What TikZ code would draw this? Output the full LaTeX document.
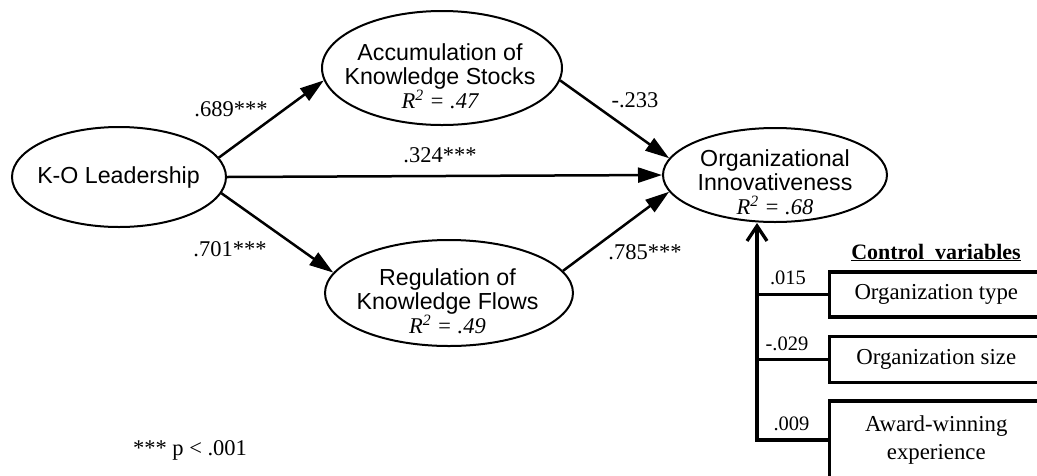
\documentclass[tikz,border=0pt]{standalone}
\usepackage{fontspec}
\setmainfont{Liberation Serif}
\newfontfamily\arialfont{Liberation Sans}
\usetikzlibrary{arrows.meta,shapes.geometric}

% R-squared line under a construct name
\newcommand{\rsqline}[1]{{\fontfamily{\rmdefault}\fontsize{22.5}{24}\selectfont\itshape R\textsuperscript{2} = #1}}

\begin{document}
\begin{tikzpicture}[x=1pt,y=-1pt,
  latent/.style={ellipse, draw, line width=2pt, inner sep=0pt},
  vartext/.style={align=center, inner sep=0pt,
    font=\arialfont\fontsize{23.2}{24}\selectfont},
  coef/.style={inner sep=0pt, font=\fontsize{22.5}{26}\selectfont},
  wlabel/.style={inner sep=0pt, font=\fontsize{20.5}{22}\selectfont},
  pathline/.style={line width=2.5pt, -{Triangle[length=24pt,width=15pt]}},
  ctrlbox/.style={draw, line width=3.3pt, minimum width=213pt, inner sep=0pt,
    align=center, font=\fontsize{22.8}{28.3}\selectfont},
  ctrlline/.style={line width=3.3pt},
]
\useasboundingbox (0,0) rectangle (1037,475);
\clip (0,0) rectangle (1037,475);

% latent constructs
\node[latent, minimum width=214pt, minimum height=100pt] (ko)  at (119,177) {};
\node[latent, minimum width=240pt, minimum height=114pt] (acc) at (442,68)  {};
\node[latent, minimum width=248pt, minimum height=106pt] (reg) at (449,293) {};
\node[latent, minimum width=224pt, minimum height=94pt]  (oi)  at (775,175) {};

\node[vartext] (kot)  at (118.5,177) {K-O Leadership};
\node[vartext] (acct) at (440,76)    {Accumulation of\\Knowledge Stocks\\\rsqline{.47}};
\node[vartext] (regt) at (447.5,301) {Regulation of\\Knowledge Flows\\\rsqline{.49}};
\node[vartext] (oit)  at (775,182)   {Organizational\\Innovativeness\\\rsqline{.68}};

% structural paths
\draw[pathline] (ko.11)  -- (acc.186);
\draw[pathline] (ko.351) -- (reg.170);
\draw[pathline] (ko.east) -- (oi.west);
\draw[pathline] (acc.354) -- (oi.171);
\draw[pathline] (reg.11) -- (oi.189);

% path coefficients
\node[coef] (c1) at (231,109)   {.689***};
\node[coef] (c2) at (440,155.5) {.324***};
\node[coef] (c3) at (230,249)   {.701***};
\node[coef] (c4) at (635,100.5) {-.233};
\node[coef] (c5) at (645,252.5) {.785***};
\node[coef] (note) at (190,450) {*** p < .001};

% control variables
\node[inner sep=0pt, font=\bfseries\fontsize{22}{26}\selectfont] (cvt) at (936,252.5) {\underline{Control\ \ variables}};
\node[ctrlbox, minimum height=45pt] (t1) at (936.3,294.5) {Organization type};
\node[ctrlbox, minimum height=46pt] (t2) at (936.3,359.2) {Organization size};
\node[ctrlbox, minimum height=78pt] (t3) at (936.3,440)   {Award-winning\\experience};

\coordinate (j3) at (757,440);
\draw[ctrlline, -{Straight Barb[length=15pt,width=20pt]}] (t3.west) -- (j3) -- (j3 |- oi.south);
\draw[ctrlline] (t1.west) -- (t1.west -| j3);
\draw[ctrlline] (t2.west) -- (t2.west -| j3);

\node[wlabel] (w1) at (788,278.3) {.015};
\node[wlabel] (w2) at (787,344.2) {-.029};
\node[wlabel] (w3) at (791.5,423.7) {.009};
\end{tikzpicture}
\end{document}
